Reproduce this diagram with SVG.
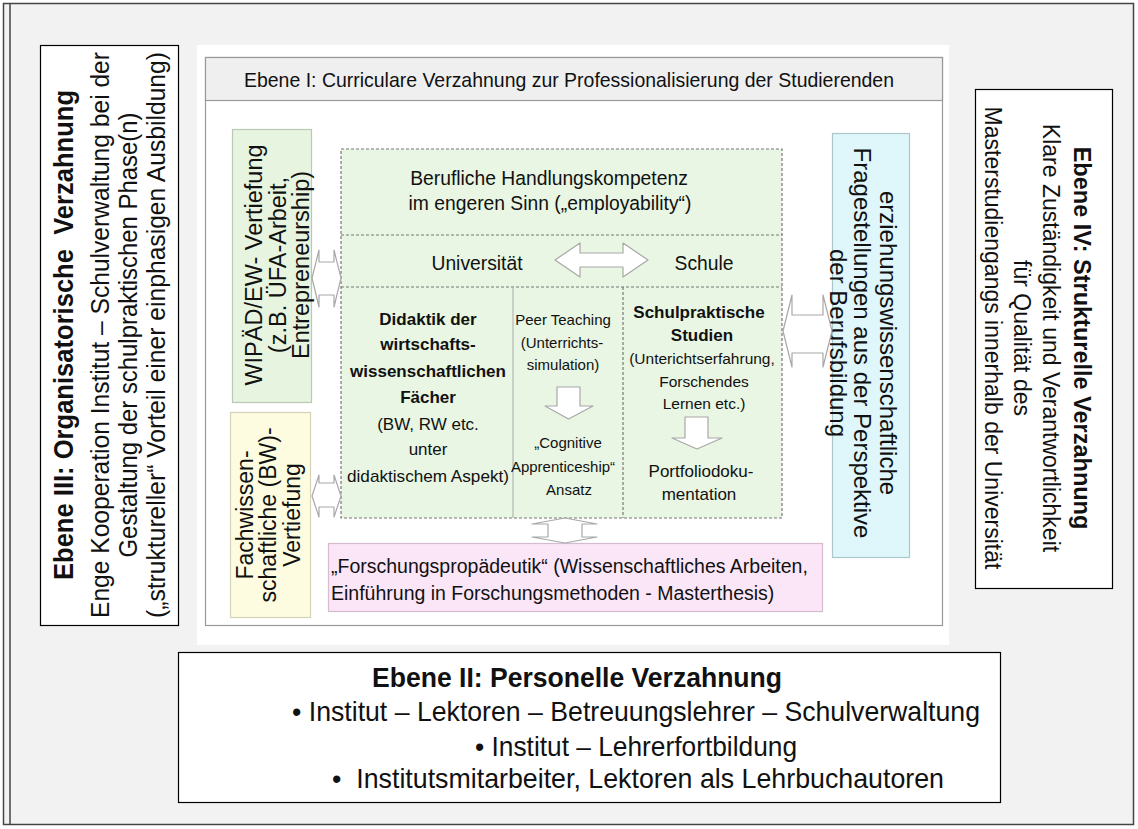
<svg xmlns="http://www.w3.org/2000/svg" width="1138" height="829" viewBox="0 0 1138 829">
<style>
text{font-family:"Liberation Sans",Arial,sans-serif;fill:#111}
.b{font-weight:bold}
.m{text-anchor:middle}
.box{stroke:#000;stroke-width:1.2;fill:#fff}
.arr{fill:#fff;stroke:#a8a8a8;stroke-width:1.2;stroke-linejoin:round}
.dash{stroke:#777;stroke-width:1.2;stroke-dasharray:3 2;fill:none}
</style>
<rect x="0" y="0" width="1138" height="829" fill="#fff"/>
<rect x="3.5" y="3.5" width="1130" height="821" fill="#f2f2f2" stroke="#444" stroke-width="1.5"/>
<line x1="10" y1="3.5" x2="10" y2="824.5" stroke="#444" stroke-width="1.5"/>

<g id="ebene3">
<rect class="box" x="40.5" y="45.5" width="138" height="580"/>
<text class="b m" font-size="27" textLength="490" lengthAdjust="spacingAndGlyphs" xml:space="preserve" transform="translate(64,335) rotate(-90)" dy=".35em">Ebene III: Organisatorische  Verzahnung</text>
<text class="m" font-size="26" textLength="566" lengthAdjust="spacingAndGlyphs" transform="translate(100,335) rotate(-90)" dy=".35em">Enge Kooperation Institut – Schulverwaltung bei der</text>
<text class="m" font-size="26" textLength="445" lengthAdjust="spacingAndGlyphs" transform="translate(128,335) rotate(-90)" dy=".35em">Gestaltung der schulpraktischen Phase(n)</text>
<text class="m" font-size="26" textLength="566" lengthAdjust="spacingAndGlyphs" transform="translate(156,335) rotate(-90)" dy=".35em">(„struktureller“ Vorteil einer einphasigen Ausbildung)</text>
</g>

<g id="panel">
<rect x="197" y="45" width="752" height="600" fill="#fff"/>
<rect x="205.5" y="57.5" width="737" height="568" fill="#fff" stroke="#999" stroke-width="1.2"/>
</g>

<g id="ebene1">
<rect x="205.5" y="57.5" width="737" height="43" fill="#efefef" stroke="#999" stroke-width="1.2"/>
<text class="m" x="569" y="87" font-size="21" textLength="650" lengthAdjust="spacingAndGlyphs">Ebene I: Curriculare Verzahnung zur Professionalisierung der Studierenden</text>
</g>

<g id="wipaed">
<rect x="232.5" y="129.5" width="79" height="273" fill="#e7f4df" stroke="#bcc8b6" stroke-width="1.2"/>
<text class="m" font-size="23.5" transform="translate(254,265) rotate(-90)" dy=".35em">WIPÄD/EW- Vertiefung</text>
<text class="m" font-size="23.5" transform="translate(278,265) rotate(-90)" dy=".35em">(z.B. ÜFA-Arbeit,</text>
<text class="m" font-size="23.5" transform="translate(301,265) rotate(-90)" dy=".35em">Entrepreneurship)</text>
</g>

<g id="fach">
<rect x="230.5" y="412.5" width="80" height="205" fill="#fdfce1" stroke="#d4d2b8" stroke-width="1.2"/>
<text class="m" font-size="23" transform="translate(245,515) rotate(-90)" dy=".35em">Fachwissen-</text>
<text class="m" font-size="23" transform="translate(268,515) rotate(-90)" dy=".35em">schaftliche (BW)-</text>
<text class="m" font-size="23" transform="translate(292,515) rotate(-90)" dy=".35em">Vertiefung</text>
</g>

<g id="kern">
<rect x="341" y="149" width="441" height="369" fill="#e8f6e3"/>
<rect class="dash" x="341" y="149" width="441" height="369"/>
<line class="dash" x1="341" y1="235" x2="782" y2="235"/>
<line class="dash" x1="341" y1="287" x2="782" y2="287"/>
<line x1="513" y1="287" x2="513" y2="518" stroke="#aaa" stroke-width="1"/>
<line class="dash" x1="623" y1="287" x2="623" y2="518"/>
</g>

<g id="beruf">
<text class="m" x="549" y="185" font-size="19.3">Berufliche Handlungskompetenz</text>
<text class="m" x="550" y="210" font-size="19.3">im engeren Sinn („employability“)</text>
</g>

<g id="uni"><text class="m" x="477" y="270" font-size="19.3">Universität</text></g>
<g id="schule"><text class="m" x="704" y="270" font-size="19.3">Schule</text></g>

<g id="didaktik">
<text class="b m" x="428" y="325" font-size="17">Didaktik der</text>
<text class="b m" x="428" y="350" font-size="17">wirtschafts-</text>
<text class="b m" x="428" y="377" font-size="17">wissenschaftlichen</text>
<text class="b m" x="428" y="403" font-size="17">Fächer</text>
<text class="m" x="428" y="430" font-size="17">(BW, RW etc.</text>
<text class="m" x="428" y="455" font-size="17">unter</text>
<text class="m" x="428" y="482" font-size="17" textLength="162" lengthAdjust="spacingAndGlyphs">didaktischem Aspekt)</text>
</g>

<g id="peer">
<text class="m" x="563" y="325" font-size="15">Peer Teaching</text>
<text class="m" x="562" y="348" font-size="15">(Unterrichts-</text>
<text class="m" x="563" y="370" font-size="15">simulation)</text>
</g>

<g id="cognitive">
<text class="m" x="568" y="448" font-size="15">„Cognitive</text>
<text class="m" x="563" y="472" font-size="15">Apprenticeship“</text>
<text class="m" x="569" y="495" font-size="15">Ansatz</text>
</g>

<g id="schulprakt">
<text class="b m" x="699" y="318" font-size="17">Schulpraktische</text>
<text class="b m" x="702" y="341" font-size="17">Studien</text>
<text class="m" x="702" y="364" font-size="15.5">(Unterichtserfahrung,</text>
<text class="m" x="704" y="387" font-size="15.5">Forschendes</text>
<text class="m" x="704" y="409" font-size="15.5">Lernen etc.)</text>
</g>

<g id="portfolio">
<text class="m" x="701" y="477" font-size="17">Portfoliodoku-</text>
<text class="m" x="699" y="500" font-size="17">mentation</text>
</g>

<g id="forschung">
<rect x="328.5" y="543.5" width="494" height="68" fill="#fbe6f8" stroke="#d3bccf" stroke-width="1.2"/>
<text x="331" y="573" font-size="19.5">„Forschungspropädeutik“ (Wissenschaftliches Arbeiten,</text>
<text x="331" y="600" font-size="19.5">Einführung in Forschungsmethoden - Masterthesis)</text>
</g>

<g id="erziehung">
<rect x="832.5" y="133.5" width="77" height="424" fill="#dff6fb" stroke="#acc8cc" stroke-width="1.2"/>
<text class="m" font-size="24" transform="translate(888,343) rotate(90)" dy=".35em">erziehungswissenschaftliche</text>
<text class="m" font-size="24" transform="translate(862,343) rotate(90)" dy=".35em">Fragestellungen aus der Perspektive</text>
<text class="m" font-size="24" transform="translate(838,343) rotate(90)" dy=".35em">der Berufsbildung</text>
</g>

<g id="ebene4">
<rect class="box" x="975.5" y="89.5" width="137" height="499"/>
<text class="b m" font-size="23.5" transform="translate(1082,338) rotate(90)" dy=".35em">Ebene IV: Strukturelle Verzahnung</text>
<text class="m" font-size="23" transform="translate(1051,338) rotate(90)" dy=".35em">Klare Zuständigkeit und Verantwortlichkeit</text>
<text class="m" font-size="23" transform="translate(1022,338) rotate(90)" dy=".35em">für Qualität des</text>
<text class="m" font-size="23" transform="translate(993,338) rotate(90)" dy=".35em">Masterstudiengangs innerhalb der Universität</text>
</g>

<g id="ebene2">
<rect class="box" x="178.5" y="652.5" width="822" height="150"/>
<text class="b" x="372" y="687" font-size="28" textLength="410" lengthAdjust="spacingAndGlyphs">Ebene II: Personelle Verzahnung</text>
<text x="292" y="721" font-size="28" textLength="688" lengthAdjust="spacingAndGlyphs">• Institut – Lektoren – Betreuungslehrer – Schulverwaltung</text>
<text x="475" y="756" font-size="28" textLength="322" lengthAdjust="spacingAndGlyphs">• Institut – Lehrerfortbildung</text>
<text x="332" y="788" font-size="28" textLength="612" lengthAdjust="spacingAndGlyphs" xml:space="preserve">•  Institutsmitarbeiter, Lektoren als Lehrbuchautoren</text>
</g>

<g id="connectors">
<polygon class="arr" points="555,260 580,243 580,253 623,253 623,243 648,260 623,277 623,267 580,267 580,277"/>
<polygon class="arr" points="557,387 580,387 580,406 593,406 568.5,419 545,406 557,406"/>
<polygon class="arr" points="685,417 708,417 708,438 722,438 697,449 672,438 685,438"/>
<polygon class="arr" points="312,278 319,250 319,262 334,262 334,250 341,278 334,307 334,295 319,295 319,307"/>
<polygon class="arr" points="312,496 319,475 319,483 334,483 334,475 341,496 334,517 334,507 319,507 319,517"/>
<polygon class="arr" points="783,331 792,295 792,315 823,315 823,295 832,331 823,367 823,353 792,353 792,367"/>
<polygon class="arr" points="565,518 597,524 582,524 582,537 597,537 565,543 532,537 548,537 548,524 532,524"/>
</g>
</svg>
